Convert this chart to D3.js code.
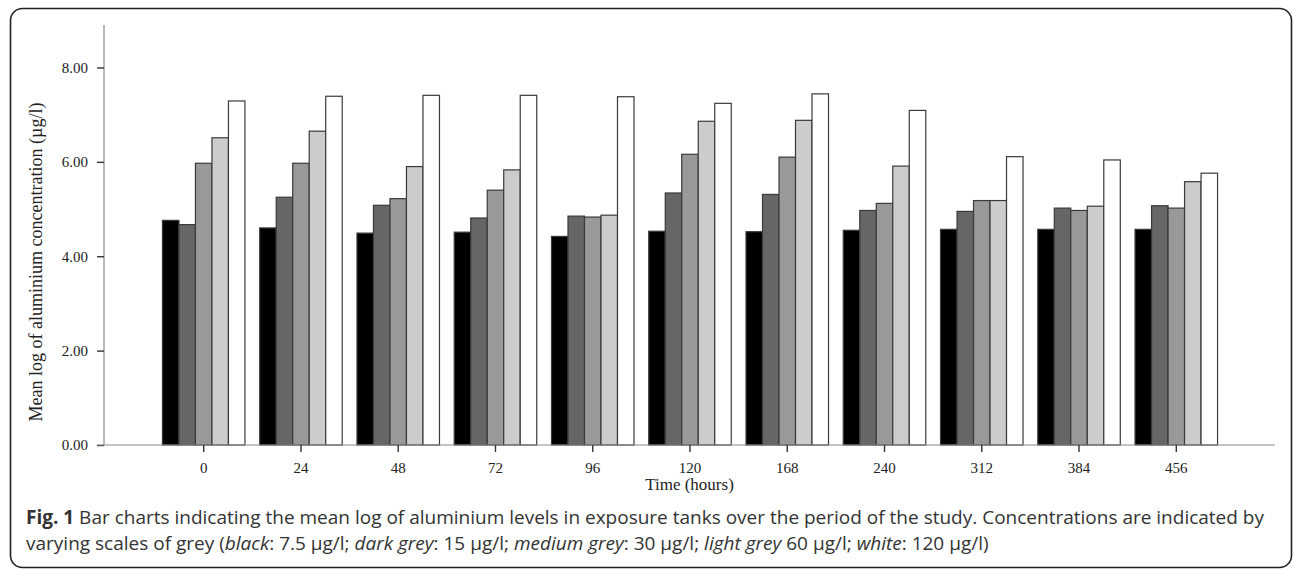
<!DOCTYPE html>
<html>
<head>
<meta charset="utf-8">
<script src="https://cdn.jsdelivr.net/npm/d3@7"></script>
<style>
    body { margin: 0; background: #fff; }
    svg { display: block; }
</style>
</head>
<body>
<div id="canvas"></div>
<script>
"use strict"

let svgWidth = 1293
let svgHeight = 569

// time points (hours) on the x axis
let times = ["0", "24", "48", "72", "96", "120", "168", "240", "312", "384", "456"]

// one array per exposure concentration
let concentrations = ["7.5", "15", "30", "60", "120"]
let black = [4.76, 4.60, 4.49, 4.51, 4.42, 4.53, 4.52, 4.55, 4.57, 4.57, 4.57]
let darkGrey = [4.67, 5.25, 5.08, 4.81, 4.85, 5.34, 5.31, 4.97, 4.95, 5.02, 5.07]
let mediumGrey = [5.97, 5.97, 5.22, 5.40, 4.83, 6.16, 6.10, 5.12, 5.18, 4.97, 5.02]
let lightGrey = [6.51, 6.65, 5.90, 5.83, 4.87, 6.86, 6.88, 5.91, 5.18, 5.06, 5.58]
let white = [7.29, 7.39, 7.41, 7.41, 7.38, 7.24, 7.44, 7.09, 6.11, 6.04, 5.76]

let yTicks = [0, 2, 4, 6, 8]
let fills = ["#000000", "#666666", "#999999", "#cccccc", "#ffffff"]

let margin = { top: 25, left: 104, right: 18, bottom: 124 }

let svg = d3.select("#canvas")
    .append("svg")
    .attr("width", svgWidth)
    .attr("height", svgHeight)

let xScale, innerScale, yScale

buildChart()

function buildChart() {
    let series = [black, darkGrey, mediumGrey, lightGrey, white]

    // flatten into one record per bar
    let bars = []
    for (let i = 0; i < times.length; i++) {
        for (let s = 0; s < series.length; s++) {
            bars.push({ time: times[i], conc: concentrations[s], value: series[s][i], idx: s })
        }
    }

    let plotRight = svgWidth - margin.right
    let plotBottom = svgHeight - margin.bottom

    xScale = d3.scalePoint()
        .domain(times)
        .range([margin.left, plotRight])
        .padding(1.02)

    let groupWidth = 82.5
    innerScale = d3.scaleBand()
        .domain(concentrations)
        .range([-groupWidth / 2, groupWidth / 2])

    yScale = d3.scaleLinear()
        .domain([0, 8.9])
        .range([plotBottom, margin.top])

    drawFrame()
    drawBars(bars)
    drawAxes(plotBottom)
    drawTexts(plotBottom)
}

function drawFrame() {
    // rounded figure border
    svg.append("rect")
        .attr("x", 10.5)
        .attr("y", 8.5)
        .attr("width", 1281)
        .attr("height", 559)
        .attr("rx", 12)
        .attr("fill", "none")
        .attr("stroke", "#222")
        .attr("stroke-width", 1.6)
}

function drawBars(bars) {
    svg.append("g")
        .selectAll("rect.bar")
        .data(bars)
        .join("rect")
        .attr("class", "bar")
        .attr("x", d => xScale(d.time) + innerScale(d.conc) + 0.5)
        .attr("y", d => yScale(d.value))
        .attr("width", innerScale.bandwidth())
        .attr("height", d => yScale(0) - yScale(d.value))
        .attr("fill", d => fills[d.idx])
        .attr("stroke", "#3a3a3a")
        .attr("stroke-width", 1.2)
}

function drawAxes(plotBottom) {
    let yAxis = d3.axisLeft(yScale)
        .tickValues(yTicks)
        .tickSize(7)
        .tickPadding(9)
        .tickFormat(d3.format(".2f"))

    let yg = svg.append("g")
        .attr("transform", `translate(${margin.left},0)`)
        .call(yAxis)
    yg.select(".domain").attr("stroke", "#8c8c8c").attr("stroke-width", 1.2)
        .attr("d", `M0,${margin.top}V${plotBottom}`)
    yg.selectAll(".tick line").attr("stroke", "#333").attr("stroke-width", 1.4)
    yg.selectAll(".tick text")
        .attr("font-family", "Liberation Serif, serif")
        .attr("font-size", 15)
        .attr("fill", "#222")

    let xAxis = d3.axisBottom(xScale)
        .tickSize(7)
        .tickPadding(10)

    let xg = svg.append("g")
        .attr("transform", `translate(0,${plotBottom})`)
        .call(xAxis)
    xg.select(".domain").attr("stroke", "#8c8c8c").attr("stroke-width", 1.2)
        .attr("d", `M${margin.left - 7},0H${svgWidth - margin.right}`)
    xg.selectAll(".tick line").attr("stroke", "#333").attr("stroke-width", 1.4)
    xg.selectAll(".tick text")
        .attr("font-family", "Liberation Serif, serif")
        .attr("font-size", 15)
        .attr("fill", "#222")
}

function drawTexts(plotBottom) {
    // axis titles
    svg.append("text")
        .attr("transform", "translate(42,262) rotate(-90)")
        .attr("text-anchor", "middle")
        .attr("font-family", "Liberation Serif, serif")
        .attr("font-size", 18)
        .attr("fill", "#222")
        .text("Mean log of aluminium concentration (µg/l)")

    svg.append("text")
        .attr("x", xScale("120"))
        .attr("y", plotBottom + 45)
        .attr("text-anchor", "middle")
        .attr("font-family", "Liberation Serif, serif")
        .attr("font-size", 17)
        .attr("fill", "#222")
        .text("Time (hours)")

    // figure caption
    let caption = svg.append("g")
        .attr("font-family", "Open Sans, sans-serif")
        .attr("font-size", 19)
        .attr("fill", "#333")

    let line1 = caption.append("text").attr("x", 26).attr("y", 524)
    line1.append("tspan").attr("font-weight", "bold").text("Fig. 1")
    line1.append("tspan").text(" Bar charts indicating the mean log of aluminium levels in exposure tanks over the period of the study. Concentrations are indicated by")

    let line2 = caption.append("text").attr("x", 26).attr("y", 550)
    let parts = [
        ["varying scales of grey (", false], ["black", true], [": 7.5 µg/l; ", false],
        ["dark grey", true], [": 15 µg/l; ", false], ["medium grey", true],
        [": 30 µg/l; ", false], ["light grey", true], [" 60 µg/l; ", false],
        ["white", true], [": 120 µg/l)", false]
    ]
    for (let i = 0; i < parts.length; i++) {
        line2.append("tspan")
            .attr("font-style", parts[i][1] ? "italic" : "normal")
            .text(parts[i][0])
    }
}
</script>
</body>
</html>
